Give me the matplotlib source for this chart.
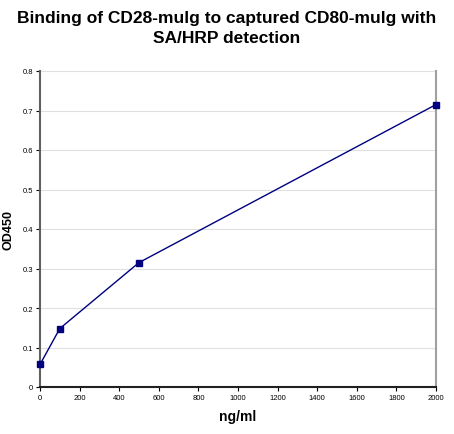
import matplotlib
matplotlib.use("Agg")
import matplotlib.pyplot as plt

conc = [0, 100, 500, 2000]
od450 = [0.057, 0.148, 0.315, 0.715]
xticks = list(range(0, 2001, 200))
yticks = [0, 0.1, 0.2, 0.3, 0.4, 0.5, 0.6, 0.7, 0.8]

plt.rcParams['font.family'] = ['Liberation Sans', 'DejaVu Sans']
fig = plt.figure(figsize=(4.54, 4.35), dpi=100)
ax = fig.add_axes([40/454, 1-388/435, 396/454, 316/435])
ax.plot(conc, od450, color='#000080', lw=1, marker='s', ms=5, clip_on=False, zorder=3)
ax.set_xlim(0, 2000)
ax.set_ylim(0, 0.8)
ax.set_xticks(xticks)
ax.set_yticks(yticks)
ax.set_xticklabels([str(v) for v in xticks], fontsize=5.5)
ax.set_yticklabels(['0'] + [f'{v:.1f}' for v in yticks[1:]], fontsize=5.5)
ax.yaxis.grid(True, color='#e0e0e0', lw=0.8)
ax.set_axisbelow(True)
ax.spines['top'].set_visible(False)
ax.spines['right'].set_color('#a0a0a0')
ax.spines['right'].set_linewidth(1.5)
ax.spines['left'].set_color('#606060')
ax.spines['bottom'].set_color('#202020')
ax.spines['left'].set_linewidth(1.5)
ax.spines['bottom'].set_linewidth(1.5)
ax.tick_params(length=3, width=0.8, pad=2)
ax.set_xlabel('ng/ml', fontsize=10, fontweight='bold', labelpad=6)
ax.set_ylabel('OD450', fontsize=9, fontweight='bold', labelpad=6)
fig.text(0.5, 0.934, 'Binding of CD28-mulg to captured CD80-mulg with\nSA/HRP detection',
         ha='center', va='center', fontsize=12.5, fontweight='bold', linespacing=1.4)
fig.savefig('out.png', dpi=100)
